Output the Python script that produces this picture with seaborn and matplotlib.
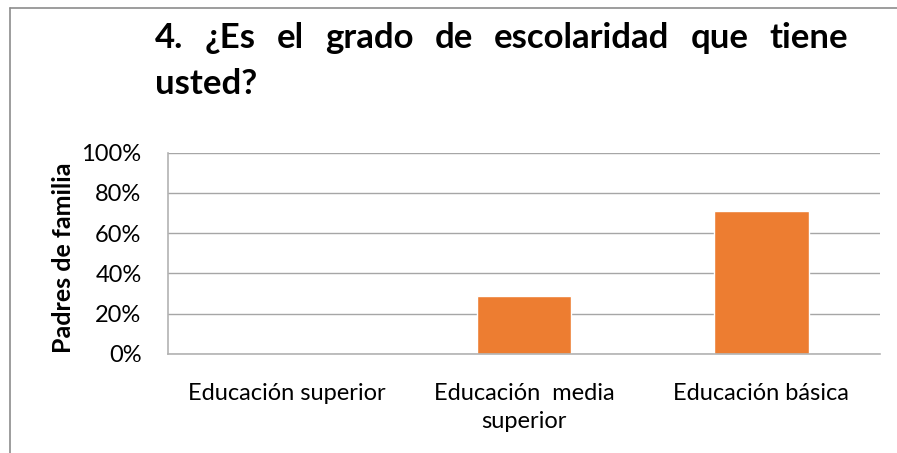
import matplotlib
matplotlib.use("Agg")
import matplotlib.pyplot as plt
import seaborn as sns
import pandas as pd
from matplotlib.ticker import PercentFormatter
from matplotlib.lines import Line2D

# Chart data
categories = ["Educación superior", "Educación  media\nsuperior", "Educación básica"]
percentages = [0, 29, 71]
y_ticks = [0, 20, 40, 60, 80, 100]
title_line1 = ["4.", "¿Es", "el", "grado", "de", "escolaridad", "que", "tiene"]
title_line2 = "usted?"
y_label = "Padres de familia"

W, H = 897, 453
sns.set_style("white")
plt.rcParams['font.family'] = ['Lato', 'DejaVu Sans']
plt.rcParams['text.color'] = 'black'

fig = plt.figure(figsize=(W / 100, H / 100), dpi=100)
ax = fig.add_axes([168 / W, 1 - 354 / H, (880 - 168) / W, (354 - 152.5) / H])

df = pd.DataFrame({"nivel": categories, "pct": percentages})
sns.barplot(data=df, x="nivel", y="pct", color="#ED7D31", width=0.4,
            saturation=1, ax=ax)

ax.set_ylim(0, 100)
ax.set_xlim(-0.5, 2.5)
ax.set_yticks(y_ticks)
ax.yaxis.set_major_formatter(PercentFormatter(decimals=0))
ax.grid(axis='y', color='#A6A6A6', linewidth=1)
ax.set_axisbelow(True)
for side in ['top', 'right']:
    ax.spines[side].set_visible(False)
for side in ['left', 'bottom']:
    ax.spines[side].set_color('#B3B3B3')
    ax.spines[side].set_linewidth(1.2)
ax.tick_params(axis='y', length=0, labelsize=17, pad=19, labelcolor='black')
ax.tick_params(axis='x', length=0, labelsize=17, pad=21, labelcolor='black')
for lbl in ax.get_xticklabels():
    lbl.set_verticalalignment('top')
    lbl.set_linespacing(1.4)
ax.set_xlabel("")
ax.set_ylabel(y_label, fontweight='bold', fontsize=18, color='black')
ax.yaxis.set_label_coords(-0.131, 0.48)

# outer chart frame (top and left edges visible)
fig.add_artist(Line2D([10 / W, 1], [1 - 8 / H, 1 - 8 / H], color='#8C8C8C', lw=1.2))
fig.add_artist(Line2D([10 / W, 10 / W], [0, 1 - 8 / H], color='#8C8C8C', lw=1.2))

# justified two-line title
x_start, x_end = 155, 848
fig.canvas.draw()
renderer = fig.canvas.get_renderer()
words = []
for w in title_line1:
    t = fig.text(0, 1 - 48 / H, w, fontsize=25, fontweight='bold', ha='left', va='baseline')
    words.append(t)
widths = [t.get_window_extent(renderer).width for t in words]
gap = (x_end - x_start - sum(widths)) / (len(words) - 1)
x = x_start
for t, wd in zip(words, widths):
    t.set_x(x / W)
    x += wd + gap
fig.text(x_start / W, 1 - 94 / H, title_line2, fontsize=25, fontweight='bold',
         ha='left', va='baseline')

fig.savefig("out.png", dpi=100)
